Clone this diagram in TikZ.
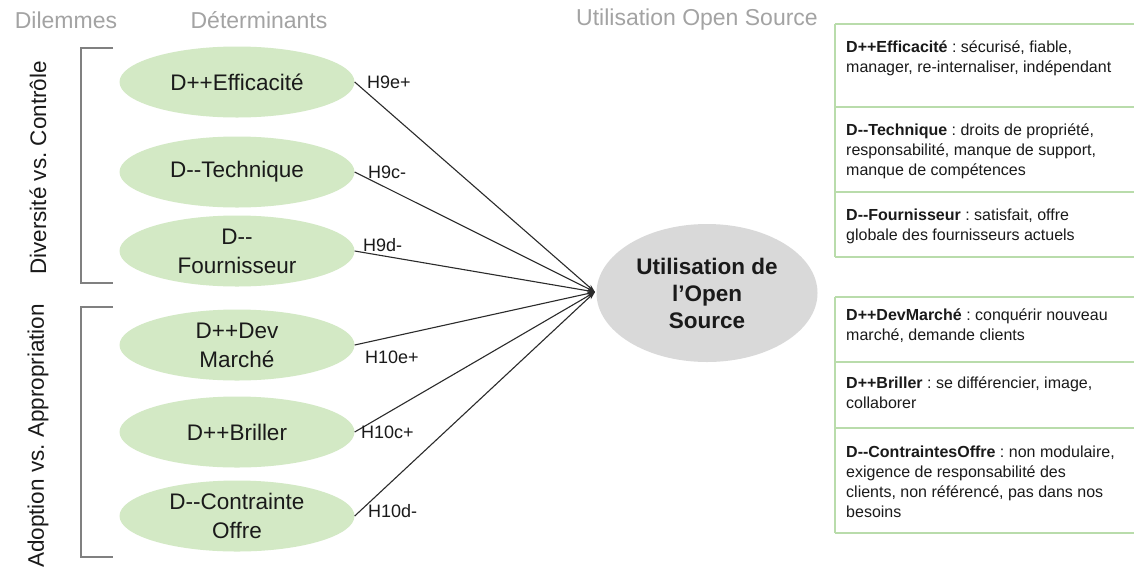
\documentclass[tikz,border=0pt]{standalone}
\usepackage{fontspec}
\setmainfont{Liberation Sans}[Ligatures=TeXOff]
\usetikzlibrary{arrows.meta,shapes.geometric}
\definecolor{hdr}{HTML}{A3A3A3}
\definecolor{brk}{HTML}{808080}
\definecolor{detfill}{HTML}{D3E9C5}
\definecolor{outfill}{HTML}{D9D9D9}
\definecolor{tabline}{HTML}{B9DCAB}
\definecolor{ink}{HTML}{1A1A1A}
\definecolor{conn}{HTML}{2B2B2B}
\frenchspacing
\begin{document}
\frenchspacing
\begin{tikzpicture}[x=1pt,y=-1pt,
  hdrtxt/.style={text=hdr, font=\fontsize{23}{26}\selectfont, inner sep=0},
  dilem/.style={text=ink, font=\fontsize{22.5}{26}\selectfont, inner sep=0, rotate=90},
  brack/.style={draw=brk, line width=2.6pt},
  det/.style={ellipse, fill=detfill, minimum width=235pt, minimum height=71pt, inner sep=0pt, align=center, text=ink, font=\fontsize{22.5}{29}\selectfont},
  outc/.style={ellipse, fill=outfill, minimum width=221pt, minimum height=138pt, inner sep=0pt, align=center, text=ink, font=\bfseries\fontsize{22.5}{27}\selectfont},
  link/.style={draw=conn, line width=1.1pt, -{Stealth[length=8pt,width=5pt]}},
  hlab/.style={anchor=west, inner sep=0, text=ink, font=\fontsize{18}{20}\selectfont},
  tabrule/.style={draw=tabline, line width=1.2pt},
  tabtxt/.style={anchor=north west, inner sep=0, align=left, text=ink, font=\fontsize{16}{20}\selectfont\frenchspacing}
]
\useasboundingbox (0,0) rectangle (1134,571);
\fill[white] (0,0) rectangle (1134,571);

% headers
\node[hdrtxt] (hdil) at (66,20) {Dilemmes};
\node[hdrtxt] (hdet) at (259,20) {Déterminants};
\node[hdrtxt] (huse) at (697,20) {Utilisation Open Source};

% dilemmas
\node[dilem] (dil1) at (38,168) {Diversité vs. Contrôle};
\node[dilem] (dil2) at (38,436) {Adoption vs. Appropriation};
\draw[brack] (113,48) -- (81,48) -- (81,283) -- (113,283);
\draw[brack] (113,307) -- (81,307) -- (81,557) -- (113,557);

% determinants
\node[det] (e1) at (237,82) {D++Efficacité};
\node[det] (e2) at (237,172) {D--Technique};
\node[det] (e3) at (237,251) {D--\\Fournisseur};
\node[det] (e4) at (237,345) {D++Dev\\Marché};
\node[det] (e5) at (237,432) {D++Briller};
\node[det] (e6) at (237,516) {D--Contrainte\\Offre};

% outcome
\node[outc] (out) at (707,293) {Utilisation de\\l’Open\\Source};
\coordinate (conv) at (595,292);

\draw[link] (e1.east) -- (conv);
\draw[link] (e2.east) -- (conv);
\draw[link] (e3.east) -- (conv);
\draw[link] (e4.east) -- (conv);
\draw[link] (e5.east) -- (conv);
\draw[link] (e6.east) -- (conv);

\node[hlab] (l1) at (367,82) {H9e+};
\node[hlab] (l2) at (368,172) {H9c-};
\node[hlab] (l3) at (363,245) {H9d-};
\node[hlab] (l4) at (365,357) {H10e+};
\node[hlab] (l5) at (361,432) {H10c+};
\node[hlab] (l6) at (368,511) {H10d-};

% table 1
\draw[tabrule] (835,24) -- (835,257);
\foreach \yy in {24,107,192,257} \draw[tabrule] (835,\yy) -- (1134,\yy);
% table 2
\draw[tabrule] (835,297) -- (835,533);
\foreach \yy in {297,362,428,533} \draw[tabrule] (835,\yy) -- (1134,\yy);

\node[tabtxt] (t1) at (846,38) {\rule{0pt}{14pt}\textbf{D++Efficacité} : sécurisé, fiable,\\manager, re-internaliser, indépendant};
\node[tabtxt] (t2) at (846,121) {\rule{0pt}{14pt}\textbf{D--Technique} : droits de propriété,\\responsabilité, manque de support,\\manque de compétences};
\node[tabtxt] (t3) at (846,206) {\rule{0pt}{14pt}\textbf{D--Fournisseur} : satisfait, offre\\globale des fournisseurs actuels};
\node[tabtxt] (t4) at (846,306) {\rule{0pt}{14pt}\textbf{D++DevMarché} : conquérir nouveau\\marché, demande clients};
\node[tabtxt] (t5) at (846,374) {\rule{0pt}{14pt}\textbf{D++Briller} : se différencier, image,\\collaborer};
\node[tabtxt] (t6) at (846,443) {\rule{0pt}{14pt}\textbf{D--ContraintesOffre} : non modulaire,\\exigence de responsabilité des\\clients, non référencé, pas dans nos\\besoins};
\end{tikzpicture}
\end{document}
